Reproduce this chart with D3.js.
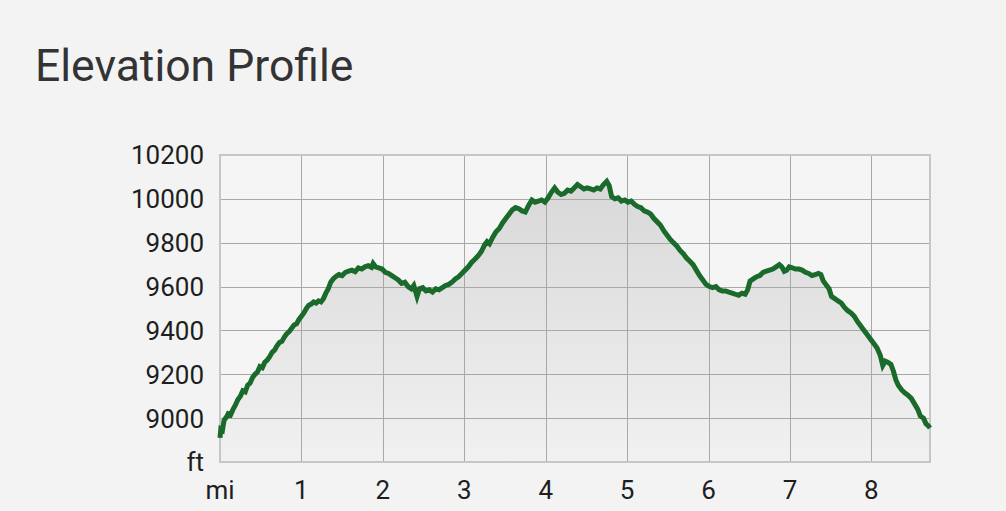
<!DOCTYPE html>
<html>
<head>
<meta charset="utf-8">
<script src="https://cdn.jsdelivr.net/npm/d3@7"></script>
<style>
  body { margin: 0; background: #f3f3f3; }
  svg { display: block; font-family: Roboto, "Noto Sans", sans-serif; }
</style>
</head>
<body>
<svg id="chart" width="1006" height="511"></svg>
<script>
// distance along trail (mi) and elevation (ft)
var miles = [0.00,0.01,0.03,0.05,0.08,0.10,0.13,0.16,0.19,0.22,0.25,0.28,0.31,0.34,0.37,0.40,0.43,0.46,0.49,0.52,
  0.55,0.58,0.61,0.64,0.67,0.70,0.73,0.76,0.79,0.82,0.85,0.88,0.91,0.94,0.97,1.00,1.03,1.06,1.09,1.12,
  1.15,1.18,1.21,1.24,1.27,1.30,1.33,1.36,1.39,1.42,1.46,1.50,1.54,1.58,1.62,1.66,1.70,1.74,1.78,1.82,
  1.86,1.88,1.91,1.95,1.99,2.03,2.07,2.11,2.15,2.19,2.23,2.27,2.31,2.35,2.38,2.42,2.45,2.49,2.53,2.57,
  2.61,2.65,2.69,2.73,2.77,2.81,2.85,2.89,2.93,2.97,3.01,3.05,3.09,3.13,3.17,3.21,3.25,3.28,3.31,3.35,
  3.39,3.43,3.47,3.51,3.55,3.59,3.63,3.67,3.71,3.75,3.79,3.83,3.87,3.91,3.95,3.99,4.03,4.07,4.11,4.15,
  4.19,4.23,4.27,4.31,4.35,4.39,4.43,4.47,4.51,4.55,4.59,4.63,4.67,4.71,4.75,4.78,4.81,4.85,4.89,4.93,
  4.97,5.01,5.05,5.09,5.13,5.17,5.21,5.25,5.29,5.33,5.37,5.41,5.45,5.49,5.53,5.57,5.61,5.65,5.69,5.73,
  5.77,5.81,5.85,5.89,5.93,5.97,6.01,6.05,6.09,6.13,6.17,6.21,6.25,6.29,6.33,6.37,6.41,6.45,6.48,6.51,
  6.55,6.59,6.63,6.67,6.71,6.75,6.79,6.83,6.87,6.90,6.93,6.96,6.99,7.03,7.07,7.11,7.15,7.19,7.23,7.27,
  7.31,7.35,7.38,7.41,7.44,7.48,7.51,7.55,7.59,7.63,7.67,7.71,7.75,7.79,7.83,7.87,7.91,7.95,7.99,8.03,
  8.07,8.11,8.14,8.17,8.20,8.24,8.27,8.30,8.33,8.37,8.41,8.45,8.49,8.53,8.57,8.60,8.64,8.67,8.70,8.72];
var elevation = [8910,8950,8945,8990,9005,9020,9015,9040,9060,9085,9100,9125,9120,9150,9160,9185,9200,9210,9235,9230,
  9255,9265,9280,9300,9310,9330,9345,9350,9370,9385,9395,9410,9425,9430,9450,9465,9480,9500,9515,9520,
  9530,9525,9535,9530,9545,9570,9590,9620,9635,9645,9655,9650,9665,9670,9675,9668,9685,9680,9690,9695,
  9688,9705,9690,9685,9680,9665,9660,9650,9640,9630,9615,9620,9600,9590,9605,9555,9590,9595,9580,9585,
  9575,9590,9585,9595,9605,9610,9620,9635,9645,9660,9675,9690,9710,9725,9740,9760,9790,9805,9795,9825,
  9850,9865,9890,9910,9930,9950,9960,9955,9945,9940,9970,9995,9985,9990,9995,9985,10005,10030,10050,10030,
  10020,10025,10040,10035,10050,10065,10055,10045,10050,10045,10040,10050,10045,10065,10080,10060,10010,10000,10005,9990,
  9995,9985,9990,9975,9965,9960,9945,9940,9930,9910,9895,9880,9855,9835,9815,9800,9785,9765,9750,9730,
  9715,9700,9675,9650,9630,9610,9600,9595,9600,9585,9580,9580,9575,9570,9565,9560,9570,9565,9585,9625,
  9635,9645,9650,9665,9670,9675,9680,9690,9700,9690,9670,9675,9690,9685,9680,9680,9675,9665,9660,9650,
  9655,9660,9655,9625,9610,9590,9555,9545,9535,9525,9505,9490,9480,9465,9440,9420,9400,9380,9360,9340,
  9320,9285,9240,9260,9255,9245,9215,9175,9150,9130,9115,9105,9090,9065,9040,9010,9000,8975,8965,8955];

var yTicks = [8800, 9000, 9200, 9400, 9600, 9800, 10000, 10200];
var yTickLabels = ["ft", "9000", "9200", "9400", "9600", "9800", "10000", "10200"];
var xTicks = [0, 1, 2, 3, 4, 5, 6, 7, 8];
var xTickLabels = ["mi", "1", "2", "3", "4", "5", "6", "7", "8"];

var data = miles.map((m, i) => ({ mi: m, ft: elevation[i] }));

var pLeft = 220, pRight = 930, pTop = 155, pBottom = 462;
var svg = d3.select("#chart");

svg.append("text")
  .attr("x", 35).attr("y", 81)
  .attr("font-size", 44.5).attr("fill", "#333")
  .text("Elevation Profile");

var scX = d3.scaleLinear().domain([0, 8.72]).range([pLeft, pRight]);
var scY = d3.scaleLinear().domain([8800, 10200]).range([pBottom, pTop]);

var defs = svg.append("defs");
var grad = defs.append("linearGradient").attr("id", "fillGrad")
  .attr("gradientUnits", "userSpaceOnUse")
  .attr("x1", 0).attr("y1", scY(10100)).attr("x2", 0).attr("y2", pBottom);
grad.append("stop").attr("offset", "0%").attr("stop-color", "#d8d8d8");
grad.append("stop").attr("offset", "100%").attr("stop-color", "#f1f1f1");

// plot background
svg.append("rect")
  .attr("x", pLeft).attr("y", pTop)
  .attr("width", pRight - pLeft).attr("height", pBottom - pTop)
  .attr("fill", "#f5f5f5");

// area under the profile
var areaMaker = d3.area()
  .x(d => scX(d.mi))
  .y0(scY(8800))
  .y1(d => scY(d.ft));
svg.append("path")
  .attr("d", areaMaker(data))
  .attr("fill", "url(#fillGrad)");

// grid
var grid = svg.append("g").attr("stroke", "#a8a8a8").attr("stroke-width", 1);
grid.selectAll("line.h").data(yTicks.slice(1, -1)).enter().append("line")
  .attr("x1", pLeft).attr("x2", pRight)
  .attr("y1", d => Math.round(scY(d)) + 0.5).attr("y2", d => Math.round(scY(d)) + 0.5);
grid.selectAll("line.v").data(xTicks.slice(1)).enter().append("line")
  .attr("y1", pTop).attr("y2", pBottom)
  .attr("x1", d => Math.round(scX(d)) + 0.5).attr("x2", d => Math.round(scX(d)) + 0.5);

// frame
svg.append("rect")
  .attr("x", pLeft).attr("y", pTop)
  .attr("width", pRight - pLeft).attr("height", pBottom - pTop)
  .attr("fill", "none").attr("stroke", "#c6c6c6").attr("stroke-width", 2);

// profile line
var lineMaker = d3.line()
  .x(d => scX(d.mi))
  .y(d => scY(d.ft));
svg.append("path")
  .attr("d", lineMaker(data))
  .attr("fill", "none")
  .attr("stroke", "#1a6a2b")
  .attr("stroke-width", 5)
  .attr("stroke-linejoin", "miter");

// y labels
svg.append("g").selectAll("text")
  .data(yTicks).enter().append("text")
  .attr("x", 204)
  .attr("y", d => scY(d))
  .attr("dy", "0.36em")
  .attr("text-anchor", "end")
  .attr("font-size", 26).attr("fill", "#1e1e1e")
  .text((d, i) => yTickLabels[i]);

// x labels
svg.append("g").selectAll("text")
  .data(xTicks).enter().append("text")
  .attr("x", d => scX(d))
  .attr("y", 499)
  .attr("text-anchor", "middle")
  .attr("font-size", 26).attr("fill", "#1e1e1e")
  .text((d, i) => xTickLabels[i]);
</script>
</body>
</html>
